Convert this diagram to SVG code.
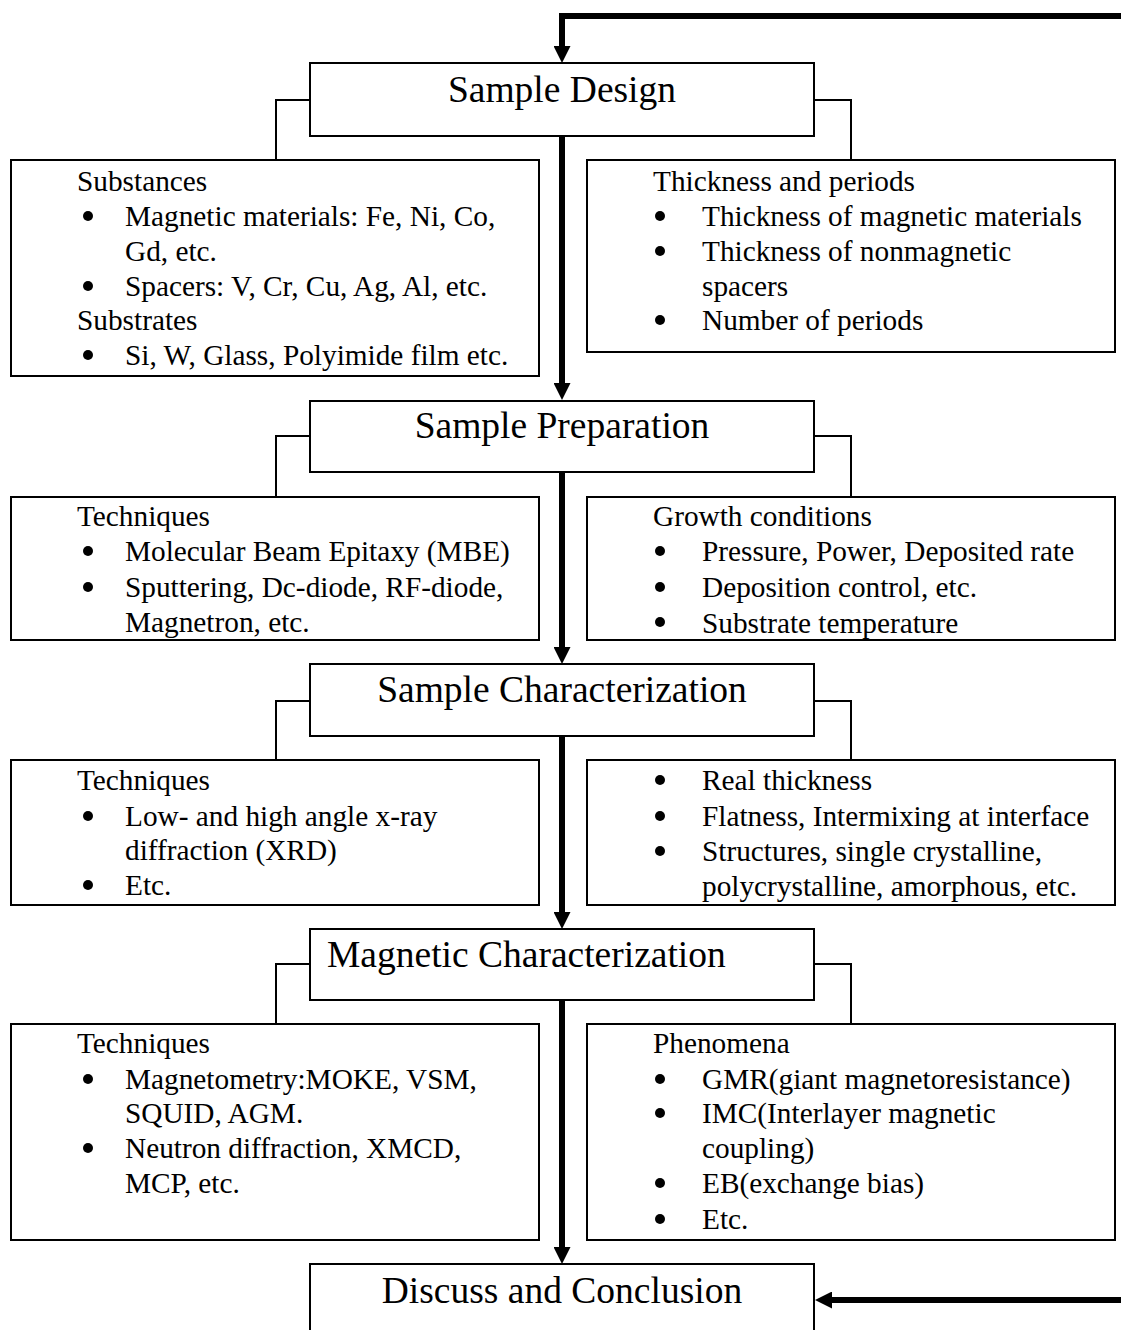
<svg xmlns="http://www.w3.org/2000/svg" width="1121" height="1330" viewBox="0 0 1121 1330">
<defs>
<marker id="ah" viewBox="0 0 17 17" refX="7" refY="8.5" markerWidth="17" markerHeight="17" orient="auto" markerUnits="userSpaceOnUse">
<path d="M0,0 L17,8.5 L0,17 Z" fill="#000"/>
</marker>
<style>
.box{fill:#fff;stroke:#000;stroke-width:2}
.br{fill:none;stroke:#000;stroke-width:2}
.flow{fill:none;stroke:#000;stroke-width:6}
.t{font-family:"Liberation Serif","Times New Roman",serif;font-size:37.5px;fill:#000}
.b{font-family:"Liberation Serif","Times New Roman",serif;font-size:29.3px;fill:#000}
.dot{fill:#000}
</style>
</defs>
<rect width="1121" height="1330" fill="#fff"/>

<g id="connectors">
<path class="br" d="M310,100 H276 V160 M814,100 H851 V160"/>
<path class="br" d="M310,436 H276 V497 M814,436 H851 V497"/>
<path class="br" d="M310,701 H276 V760 M814,701 H851 V760"/>
<path class="br" d="M310,964 H276 V1024 M814,964 H851 V1024"/>
<path class="flow" d="M1121,16 H562 V53" marker-end="url(#ah)"/>
<path class="flow" d="M562,137 V390" marker-end="url(#ah)"/>
<path class="flow" d="M562,473 V654" marker-end="url(#ah)"/>
<path class="flow" d="M562,737 V919" marker-end="url(#ah)"/>
<path class="flow" d="M562,1001 V1254" marker-end="url(#ah)"/>
<path class="flow" d="M1121,1300 H825" marker-end="url(#ah)"/>
</g>

<g id="design">
<rect class="box" x="310" y="63" width="504" height="73"/>
<text class="t" x="562" y="102" text-anchor="middle">Sample Design</text>
</g>
<g id="substances">
<rect class="box" x="11" y="160" width="528" height="216"/>
<text class="b" x="77" y="191">Substances</text>
<circle class="dot" cx="88" cy="216" r="5"/>
<text class="b" x="125" y="226">Magnetic materials: Fe, Ni, Co,</text>
<text class="b" x="125" y="261">Gd, etc.</text>
<circle class="dot" cx="88" cy="286" r="5"/>
<text class="b" x="125" y="296">Spacers: V, Cr, Cu, Ag, Al, etc.</text>
<text class="b" x="77" y="330">Substrates</text>
<circle class="dot" cx="88" cy="355" r="5"/>
<text class="b" x="125" y="365">Si, W, Glass, Polyimide film etc.</text>
</g>
<g id="thickness">
<rect class="box" x="587" y="160" width="528" height="192"/>
<text class="b" x="653" y="191">Thickness and periods</text>
<circle class="dot" cx="660" cy="216" r="5"/>
<text class="b" x="702" y="226">Thickness of magnetic materials</text>
<circle class="dot" cx="660" cy="251" r="5"/>
<text class="b" x="702" y="261">Thickness of nonmagnetic</text>
<text class="b" x="702" y="296">spacers</text>
<circle class="dot" cx="660" cy="320" r="5"/>
<text class="b" x="702" y="330">Number of periods</text>
</g>

<g id="preparation">
<rect class="box" x="310" y="401" width="504" height="71"/>
<text class="t" x="562" y="438" text-anchor="middle">Sample Preparation</text>
</g>
<g id="prep-techniques">
<rect class="box" x="11" y="497" width="528" height="143"/>
<text class="b" x="77" y="526">Techniques</text>
<circle class="dot" cx="88" cy="551" r="5"/>
<text class="b" x="125" y="561">Molecular Beam Epitaxy (MBE)</text>
<circle class="dot" cx="88" cy="587" r="5"/>
<text class="b" x="125" y="597">Sputtering, Dc-diode, RF-diode,</text>
<text class="b" x="125" y="632">Magnetron, etc.</text>
</g>
<g id="growth">
<rect class="box" x="587" y="497" width="528" height="143"/>
<text class="b" x="653" y="526">Growth conditions</text>
<circle class="dot" cx="660" cy="551" r="5"/>
<text class="b" x="702" y="561">Pressure, Power, Deposited rate</text>
<circle class="dot" cx="660" cy="587" r="5"/>
<text class="b" x="702" y="597">Deposition control, etc.</text>
<circle class="dot" cx="660" cy="622" r="5"/>
<text class="b" x="702" y="633">Substrate temperature</text>
</g>

<g id="characterization">
<rect class="box" x="310" y="664" width="504" height="72"/>
<text class="t" x="562" y="702" text-anchor="middle">Sample Characterization</text>
</g>
<g id="char-techniques">
<rect class="box" x="11" y="760" width="528" height="145"/>
<text class="b" x="77" y="790">Techniques</text>
<circle class="dot" cx="88" cy="816" r="5"/>
<text class="b" x="125" y="826">Low- and high angle x-ray</text>
<text class="b" x="125" y="860">diffraction (XRD)</text>
<circle class="dot" cx="88" cy="885" r="5"/>
<text class="b" x="125" y="895">Etc.</text>
</g>
<g id="structure">
<rect class="box" x="587" y="760" width="528" height="145"/>
<circle class="dot" cx="660" cy="780" r="5"/>
<text class="b" x="702" y="790">Real thickness</text>
<circle class="dot" cx="660" cy="816" r="5"/>
<text class="b" x="702" y="826">Flatness, Intermixing at interface</text>
<circle class="dot" cx="660" cy="851" r="5"/>
<text class="b" x="702" y="861">Structures, single crystalline,</text>
<text class="b" x="702" y="896">polycrystalline, amorphous, etc.</text>
</g>

<g id="magnetic">
<rect class="box" x="310" y="929" width="504" height="71"/>
<text class="t" x="327" y="967">Magnetic Characterization</text>
</g>
<g id="mag-techniques">
<rect class="box" x="11" y="1024" width="528" height="216"/>
<text class="b" x="77" y="1053">Techniques</text>
<circle class="dot" cx="88" cy="1079" r="5"/>
<text class="b" x="125" y="1089">Magnetometry:MOKE, VSM,</text>
<text class="b" x="125" y="1123">SQUID, AGM.</text>
<circle class="dot" cx="88" cy="1148" r="5"/>
<text class="b" x="125" y="1158">Neutron diffraction, XMCD,</text>
<text class="b" x="125" y="1193">MCP, etc.</text>
</g>
<g id="phenomena">
<rect class="box" x="587" y="1024" width="528" height="216"/>
<text class="b" x="653" y="1053">Phenomena</text>
<circle class="dot" cx="660" cy="1079" r="5"/>
<text class="b" x="702" y="1089">GMR(giant magnetoresistance)</text>
<circle class="dot" cx="660" cy="1113" r="5"/>
<text class="b" x="702" y="1123">IMC(Interlayer magnetic</text>
<text class="b" x="702" y="1158">coupling)</text>
<circle class="dot" cx="660" cy="1183" r="5"/>
<text class="b" x="702" y="1193">EB(exchange bias)</text>
<circle class="dot" cx="660" cy="1219" r="5"/>
<text class="b" x="702" y="1229">Etc.</text>
</g>

<g id="conclusion">
<rect class="box" x="310" y="1264" width="504" height="80"/>
<text class="t" x="562" y="1303" text-anchor="middle">Discuss and Conclusion</text>
</g>
</svg>
